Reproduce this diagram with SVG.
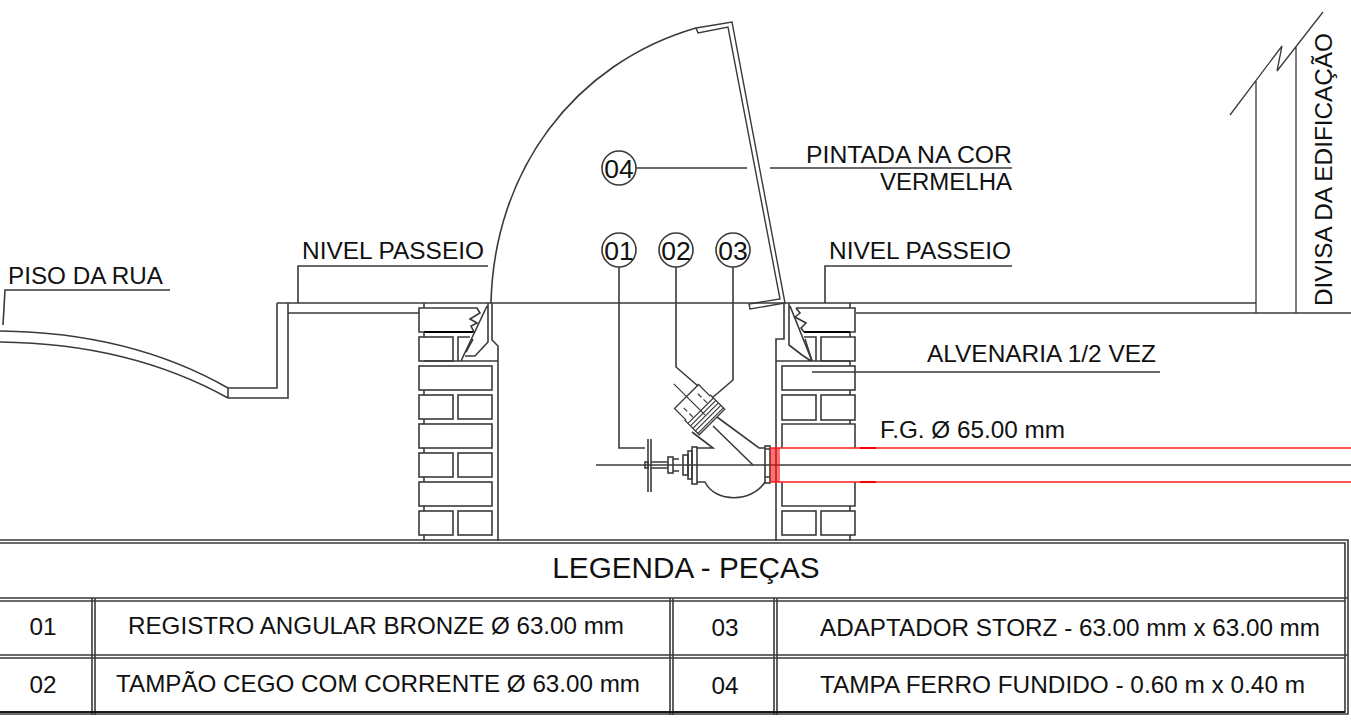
<svg xmlns="http://www.w3.org/2000/svg" width="1351" height="724" viewBox="0 0 1351 724">
<style>
text{font-family:"Liberation Sans",Arial,sans-serif;fill:#111}
.l{font-size:24.3px}
.t{font-size:26.5px}
.m{text-anchor:middle}
path,line,rect,circle{fill:none;stroke:#3a3a3a;stroke-width:1.6}
.k{stroke:#000;stroke-width:2}
.r{stroke:#f22;stroke-width:1.4}
.q{stroke:#f00;stroke-width:2}
.v{stroke:#f11;stroke-width:1.2}
</style>
<rect width="1351" height="724" style="fill:#fff;stroke:none"/>
<g id="ground">
<path d="M277,303H1256M288,313H419M856,313H1351"/>
<path d="M288,303V398H228M277,303V388H228V398"/>
<path d="M0,331C90,332 165,352 228,388M0,342C90,343 165,363 228,398"/>
<path d="M1256,313V80M1296,313V47M1230,115L1282,46L1277,71L1323,12" style="stroke-width:1.3"/>
</g>
<g id="wall-left">
<path d="M424,303V308M419,308H477L480,313L470,319L477,323L471,326L474,332H424L419,332ZM419,308V332"/>
<line class="k" x1="424" y1="332" x2="473" y2="332"/>
<rect x="419" y="337" width="34" height="24"/>
<path d="M458,361V337H470M473,339L466,352"/>
<path d="M487,306L461,361M488,303V342L475,356H465M492,303V340L498,346V541M424,361H498"/>
<path d="M424,332V337M424,390V395M424,419V424M424,448V453M424,477V482M424,506V511M424,535V541"/>
<rect x="419" y="366" width="73" height="24"/>
<rect x="419" y="395" width="34" height="24"/><rect x="458" y="395" width="34" height="24"/>
<rect x="419" y="424" width="73" height="24"/>
<rect x="419" y="453" width="34" height="24"/><rect x="458" y="453" width="34" height="24"/>
<rect x="419" y="482" width="73" height="24"/>
<rect x="419" y="511" width="34" height="24"/><rect x="458" y="511" width="34" height="24"/>
</g>
<g id="wall-right">
<path d="M850,303V308M796,308H855V332H850M850,332V337M796,308L800,313L795,317L806,323L801,328L804,332"/>
<line class="k" x1="804" y1="332" x2="850" y2="332"/>
<path d="M804,337H816V361M821,337H855V361H821ZM805,339L812,361"/>
<path d="M784,303V339H776V541M789,303V345L802,355L811,361M790,306L812,361M776,361H850"/>
<path d="M850,361V366M850,390V395M850,420V424M850,506V511M850,535V541"/>
<rect x="782" y="366" width="73" height="24"/>
<rect x="782" y="395" width="34" height="25"/><rect x="821" y="395" width="34" height="25"/>
<path d="M782,448V424H855V448M782,482V506H855V482"/>
<rect x="782" y="511" width="34" height="24"/><rect x="821" y="511" width="34" height="24"/>
</g>
<g id="tampa">
<path d="M491,303C494,170 575,63 696,28"/>
<path d="M696,28L732,22L785,303L750,309L749,304L780,299L728,27L698,33Z" style="stroke-width:1.4"/>
</g>
<g id="valve">
<path d="M596,465H1351"/>
<path d="M648,439V492M651,439V492"/>
<rect x="645" y="462" width="3" height="6"/>
<path d="M651,462H668M651,468H668M673,459H679M673,471H679"/>
<rect x="668" y="457" width="5" height="16"/>
<rect x="683" y="455" width="5" height="20"/>
<rect x="688" y="451" width="4" height="28"/>
<rect x="692" y="447" width="5" height="37"/>
<path d="M697,448H713L692,432M717,417L759,448H765M713,426L753,465M697,482H705C715,503 752,503 765,482"/>
<rect x="765" y="446" width="5" height="37"/>
<path d="M765,449H770M765,477H770"/>
<g transform="translate(712,422) rotate(45)">
<path d="M-36,-17H-20V-18H0V18H-20V17H-36Z" style="stroke-width:1.3"/>
<path d="M-54,0H-10M-16,-18V18M-12.500,-18V18M-9,-18V18M-5.500,-18V18M-2,-18V18" style="stroke-width:1.2"/>
<path d="M-30,-10H-14M-30,10H-14" stroke-dasharray="5 3" style="stroke-width:1.2"/>
</g>
</g>
<g id="pipe">
<path class="r" d="M770,448H1351M770,482H1351"/>
<path class="v" d="M771,448V482M773,448V482M775,448V482M777,448V482M779,448V482"/>
<path class="q" d="M860,448H876M860,482H876"/>
</g>
<g id="leaders">
<path d="M3,325L5,290H170M298,303V266H488M825,303V266H1012M770,168H1012M812,372H1160M636,168H747"/>
<path d="M619,267V448H645M676,267V367L698,386M733,267V380L712,398"/>
</g>
<g id="callout-04"><circle cx="619" cy="168" r="17"/><text class="t m" x="619" y="177.500">04</text></g>
<g id="callout-01"><circle cx="619" cy="250" r="17"/><text class="t m" x="619" y="259.500">01</text></g>
<g id="callout-02"><circle cx="676" cy="250" r="17"/><text class="t m" x="676" y="259.500">02</text></g>
<g id="callout-03"><circle cx="733" cy="250" r="17"/><text class="t m" x="733" y="259.500">03</text></g>
<g id="labels">
<text class="l" x="8" y="284" textLength="155" lengthAdjust="spacingAndGlyphs">PISO DA RUA</text>
<text class="l" x="302" y="259" textLength="182" lengthAdjust="spacingAndGlyphs">NIVEL PASSEIO</text>
<text class="l" x="829" y="259" textLength="182" lengthAdjust="spacingAndGlyphs">NIVEL PASSEIO</text>
<text class="l" x="806" y="163" textLength="206" lengthAdjust="spacingAndGlyphs">PINTADA NA COR</text>
<text class="l" x="880" y="190" textLength="132" lengthAdjust="spacingAndGlyphs">VERMELHA</text>
<text class="l" x="927" y="362" textLength="229" lengthAdjust="spacingAndGlyphs">ALVENARIA 1/2 VEZ</text>
<text class="l" x="880" y="438" textLength="185" lengthAdjust="spacingAndGlyphs">F.G. Ø 65.00 mm</text>
<text class="l" transform="translate(1332,306) rotate(-90)" textLength="273" lengthAdjust="spacingAndGlyphs">DIVISA DA EDIFICAÇÃO</text>
</g>
<g id="table">
<path d="M0,540H1348V714H0M0,543H1345V712H0"/>
<path d="M0,598H1348M0,601H1345M0,655H1348M0,658H1345"/>
<path d="M92,598V715M95,598V715M670,598V715M673,598V715M774,598V715M777,598V715"/>
<path d="M0,712H1345" style="stroke:#000"/>
<text class="m" x="686" y="578" style="font-size:29.700px">LEGENDA - PEÇAS</text>
<text class="l m" x="43" y="635">01</text>
<text class="l m" x="43" y="693">02</text>
<text class="l m" x="725" y="636">03</text>
<text class="l m" x="725" y="694">04</text>
<text class="l" x="128" y="634" textLength="496" lengthAdjust="spacingAndGlyphs">REGISTRO ANGULAR BRONZE Ø 63.00 mm</text>
<text class="l" x="116" y="692" textLength="524" lengthAdjust="spacingAndGlyphs">TAMPÃO CEGO COM CORRENTE Ø 63.00 mm</text>
<text class="l" x="820" y="636" textLength="500" lengthAdjust="spacingAndGlyphs">ADAPTADOR STORZ - 63.00 mm x 63.00 mm</text>
<text class="l" x="820" y="693" textLength="485" lengthAdjust="spacingAndGlyphs">TAMPA FERRO FUNDIDO - 0.60 m x 0.40 m</text>
</g>
</svg>
